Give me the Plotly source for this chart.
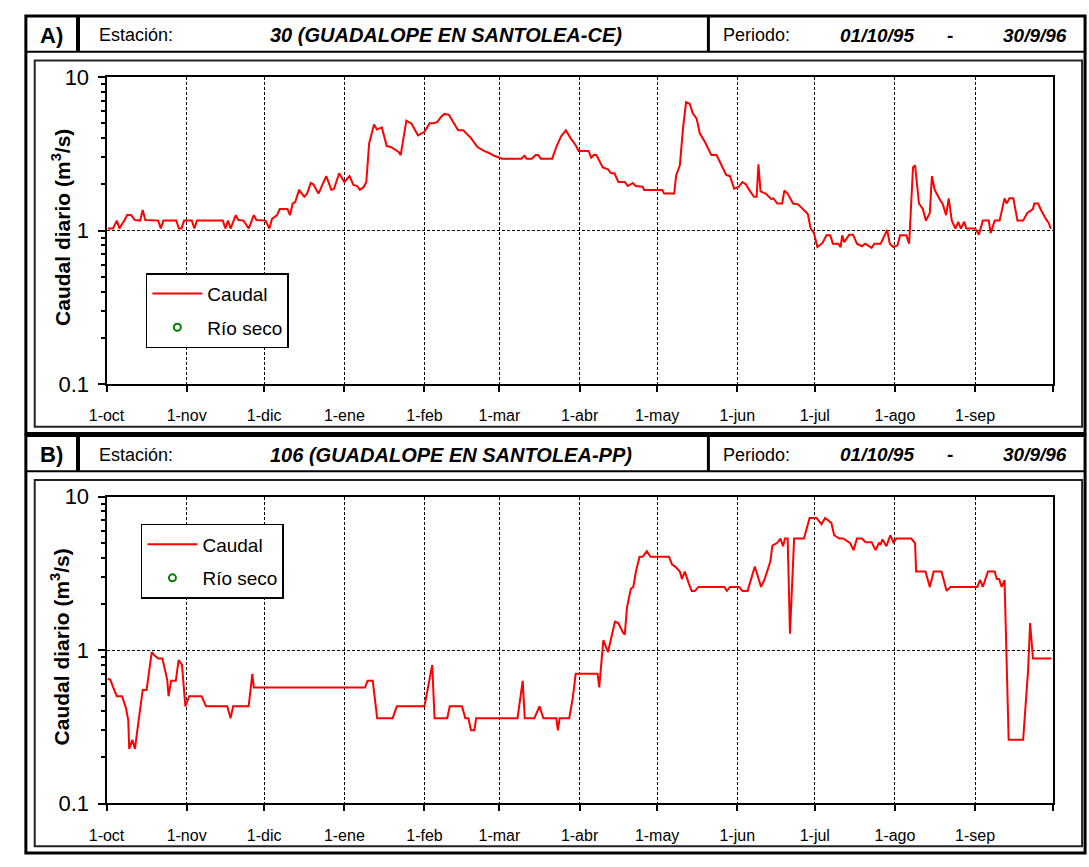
import pandas as pd
import plotly.graph_objects as go

INICIO = pd.Timestamp("1995-10-01")

# A) Estación 30 (Guadalope en Santolea-CE): días desde 1-oct-1995 y caudal (m3/s)
dias_a = [0.5, 2.5, 4, 5, 7, 8, 9.5, 11, 13, 14, 15, 20, 21, 22, 27, 28, 29, 30, 33, 34,
          35, 45, 46, 47, 48, 50, 51, 53, 55, 57, 58, 61.5, 63, 64, 66, 67, 70, 71, 72, 73,
          74.5, 76.5, 77.6, 79, 80, 82, 85, 87, 88, 90, 92, 94, 95.5, 97, 98, 99.5, 100.5, 101.6, 103.5, 104.6,
          106.5, 108.4, 110, 113, 113.8, 116, 118, 120.5, 123, 125, 126.5, 128, 129.4, 130.7, 132.5, 134, 136, 138, 141, 143.5,
          146, 148, 150, 153, 160.5, 161.7, 162.5, 164.5, 166, 167, 168, 172.4, 174, 175.8, 177.7, 179.5, 181.5, 182.6, 186.5, 187.5,
          188.5, 189.5, 192, 194, 195.2, 196.5, 198, 200.5, 201.7, 203.6, 204.7, 207.4, 208, 215, 215.7, 219.6, 220.4, 221.8, 223, 224.2,
          225.6, 226.8, 228.3, 229.5, 231.4, 234, 236, 239.7, 241.2, 242.8, 244.5, 246, 247.3, 249, 250.5, 251.5, 252.2, 253, 255, 257.2,
          258, 259.5, 261.4, 262.2, 263.5, 265.6, 267.5, 269.8, 271.3, 272.4, 273.6, 275, 277, 278.5, 280, 281, 283, 284, 284.6, 285.4,
          287.3, 288.8, 290.3, 292.2, 293.5, 296, 297, 299.5, 300.6, 302, 303, 304.4, 306, 307, 309.4, 310.5, 312, 312.8, 314.3, 315.8,
          317, 318.5, 319.3, 320.4, 322.3, 323.4, 324.8, 325.8, 327, 328.4, 329.5, 330.5, 331.8, 332.6, 336, 337.5, 339, 341.3, 342, 343.6,
          345.5, 347.4, 348.2, 349.3, 350.8, 352.4, 354.6, 356.2, 358.4, 358.9, 360.4, 361.5, 363.4, 364.5, 365.3]
caudal_a = [1.03, 1.03, 1.16, 1.03, 1.17, 1.26, 1.26, 1.17, 1.16, 1.36, 1.17, 1.16, 1.03, 1.16, 1.16, 1.03, 1.03, 1.16, 1.16, 1.03,
            1.16, 1.16, 1.03, 1.16, 1.03, 1.26, 1.17, 1.16, 1.03, 1.26, 1.17, 1.16, 1.03, 1.19, 1.26, 1.38, 1.38, 1.26, 1.5, 1.53,
            1.84, 1.66, 1.74, 2.04, 2.0, 1.74, 2.26, 1.84, 1.87, 2.36, 2.07, 2.26, 1.98, 1.95, 1.84, 1.92, 2.07, 3.7, 4.9, 4.55,
            4.7, 3.55, 3.5, 3.25, 3.1, 5.2, 4.97, 4.17, 4.4, 5.0, 5.0, 5.1, 5.5, 5.75, 5.67, 5.1, 4.5, 4.5, 4.0, 3.5,
            3.3, 3.2, 3.07, 2.94, 2.94, 3.07, 2.94, 2.94, 3.1, 3.1, 2.94, 2.94, 3.5, 4.1, 4.5, 4.0, 3.6, 3.3, 3.3, 2.98,
            3.1, 3.1, 2.58, 2.5, 2.36, 2.36, 2.07, 2.07, 1.95, 2.04, 1.95, 1.93, 1.84, 1.84, 1.74, 1.74, 2.3, 2.66, 4.6, 6.85,
            6.7, 5.8, 5.35, 4.3, 3.8, 3.1, 3.1, 2.3, 2.26, 1.87, 1.92, 2.07, 2.0, 1.8, 1.66, 1.66, 2.7, 1.8, 1.74, 1.6,
            1.62, 1.5, 1.5, 1.82, 1.74, 1.5, 1.48, 1.36, 1.28, 1.03, 0.97, 0.78, 0.83, 0.93, 0.93, 0.82, 0.82, 0.78, 0.93, 0.84,
            0.94, 0.94, 0.82, 0.79, 0.82, 0.77, 0.82, 0.82, 0.9, 1.01, 0.82, 0.78, 0.8, 0.93, 0.93, 0.82, 2.58, 2.66, 1.5, 1.38,
            1.16, 1.3, 2.26, 1.84, 1.6, 1.5, 1.26, 1.62, 1.16, 1.03, 1.14, 1.03, 1.14, 1.03, 1.03, 0.94, 1.16, 1.16, 0.96, 1.16,
            1.16, 1.62, 1.5, 1.62, 1.62, 1.16, 1.16, 1.3, 1.38, 1.5, 1.5, 1.36, 1.19, 1.12, 1.03]

# B) Estación 106 (Guadalope en Santolea-PP)
dias_b = [0.5, 1.5, 2.6, 4, 6, 7.5, 8.4, 8.8, 10, 11, 12.3, 14, 15.5, 17.5, 18.3, 20, 21.6, 23.5, 24, 25,
          26.8, 27.9, 29.2, 30.5, 32, 36.8, 38.5, 46.7, 48, 49, 55, 56.4, 57, 100, 101, 103, 104.7, 110.7, 112.3, 123,
          126, 126.9, 131.8, 132.8, 137.5, 138.8, 140, 141, 142.3, 143, 159, 161, 161.8, 165.5, 167.5, 169, 174, 174.6, 175.3, 179,
          180.4, 181.5, 190, 190.6, 192.2, 194, 196.7, 198, 199.8, 200.5, 201.3, 202.8, 203.8, 204.8, 206.2, 207.4, 209, 210.5, 217.6, 218.8,
          220, 221.8, 222.6, 223.7, 225.3, 226.4, 227.6, 229, 239, 240, 241.2, 244.7, 246, 248, 250.8, 253.2, 254.6, 256.8, 257.6, 259.5,
          260.7, 261.7, 262.5, 263.5, 264.4, 266, 269.8, 272, 274.7, 276.6, 278, 280.4, 281.5, 283.5, 285, 287.7, 289, 290.3, 292.2, 293.7,
          296, 297.5, 298.8, 299.5, 300.2, 301.7, 303.2, 304.4, 305.6, 311.3, 312.8, 313.2, 316.8, 318.5, 320, 323, 325, 326.5, 336.8, 338,
          339, 341, 343.6, 344.4, 345.3, 346.3, 347.4, 349, 354.6, 355.8, 356.5, 357.3, 358.4, 365.5]
caudal_b = [0.65, 0.64, 0.57, 0.5, 0.5, 0.42, 0.35, 0.227, 0.26, 0.227, 0.335, 0.55, 0.55, 0.97, 0.93, 0.88, 0.88, 0.64, 0.5, 0.63,
            0.63, 0.86, 0.8, 0.43, 0.5, 0.5, 0.43, 0.43, 0.36, 0.43, 0.43, 0.7, 0.57, 0.57, 0.63, 0.63, 0.36, 0.36, 0.43, 0.43,
            0.8, 0.36, 0.36, 0.43, 0.43, 0.36, 0.36, 0.3, 0.3, 0.36, 0.36, 0.63, 0.36, 0.36, 0.43, 0.36, 0.36, 0.3, 0.36, 0.36,
            0.49, 0.7, 0.7, 0.57, 1.16, 0.97, 1.53, 1.5, 1.3, 1.26, 1.87, 2.5, 2.58, 3.25, 4.05, 4.05, 4.4, 4.05, 4.05, 3.6,
            3.5, 3.25, 2.9, 3.25, 2.7, 2.43, 2.43, 2.58, 2.58, 2.43, 2.58, 2.58, 2.43, 2.43, 3.5, 2.58, 2.9, 3.77, 4.8, 5.0,
            5.33, 4.75, 5.33, 5.33, 1.28, 5.33, 5.33, 7.25, 7.25, 6.6, 7.25, 6.74, 5.6, 5.33, 5.33, 4.97, 4.48, 5.33, 5.33, 5.04,
            5.04, 4.48, 4.97, 4.9, 5.26, 4.75, 5.6, 5.04, 5.33, 5.33, 4.97, 3.25, 3.25, 2.58, 3.25, 3.25, 2.43, 2.58, 2.58, 2.86,
            2.58, 3.25, 3.25, 2.9, 2.9, 2.58, 2.86, 0.26, 0.26, 0.5, 0.73, 1.5, 0.88, 0.88]

# Río seco: ningún día sin caudal en el periodo
rio_seco_a = []
rio_seco_b = []

meses = ["1-oct", "1-nov", "1-dic", "1-ene", "1-feb", "1-mar", "1-abr",
         "1-may", "1-jun", "1-jul", "1-ago", "1-sep"]
ticks_mes = pd.date_range("1995-10-01", "1996-09-01", freq="MS")

W, H = 1089, 867
FONT = "Liberation Sans, Arial, sans-serif"


def px(x):
    return x / W


def py(y):
    return 1 - y / H


def fechas(dias):
    return INICIO + pd.to_timedelta(dias, unit="D")


def caja(x0, x1, y0, y1, color="black", width=2, tipo="rect"):
    return dict(type=tipo, xref="paper", yref="paper", x0=px(x0), x1=px(x1),
                y0=py(y0), y1=py(y1), line=dict(color=color, width=width))


fig = go.Figure()
paneles = [
    ("A)", "30 (GUADALOPE EN SANTOLEA-CE)", dias_a, caudal_a, rio_seco_a, 0, "x", "y", "legend"),
    ("B)", "106 (GUADALOPE EN SANTOLEA-PP)", dias_b, caudal_b, rio_seco_b, 432, "x2", "y2", "legend2"),
]

shapes, annotations = [], []
for letra, estacion, dias, caudal, seco, o, xa, ya, leg in paneles:
    fig.add_trace(go.Scatter(x=fechas(dias), y=caudal, mode="lines", name="Caudal",
                             line=dict(color="#ff0000", width=2), xaxis=xa, yaxis=ya,
                             legend=leg, legendgroup=leg + "c"))
    fig.add_trace(go.Scatter(x=fechas(seco) if seco else [None], y=seco or [None], mode="markers",
                             name="Río seco", xaxis=xa, yaxis=ya, legend=leg, legendgroup=leg + "s",
                             marker=dict(symbol="circle-open", color="#008000", size=7,
                                         line=dict(width=2, color="#008000"))))

    # marcos
    shapes += [
        caja(8, 1085, o + 4, o + 434, width=3),
        caja(8, 1085, o + 41, o + 41, width=2, tipo="line"),
        caja(61, 61, o + 4, o + 41, width=4, tipo="line"),
        caja(702, 702, o + 4, o + 41, width=3, tipo="line"),
        caja(17, 1082, o + 50, o + 427, color="#222", width=2),
    ]
    cab = [
        (34, letra, "center", 22, True, False),
        (80, "Estación:", "left", 18, False, False),
        (254, estacion, "left", 20, True, True),
        (715, "Periodo:", "left", 18, False, False),
        (834, "01/10/95", "left", 19, True, True),
        (948, "-", "center", 19, True, False),
        (1000, "30/9/96", "left", 19, True, True),
    ]
    for x, txt, anc, size, bold, ital in cab:
        if ital:
            txt = "<i>" + txt + "</i>"
        if bold:
            txt = "<b>" + txt + "</b>"
        annotations.append(dict(x=px(x), y=py(o + 24), xref="paper", yref="paper", text=txt,
                                showarrow=False, xanchor=anc, yanchor="middle",
                                font=dict(family=FONT, size=size, color="black")))
    annotations.append(dict(x=px(43), y=py(o + 222), xref="paper", yref="paper",
                            text="<b>Caudal diario (m<sup>3</sup>/s)</b>", textangle=-90,
                            showarrow=False, xanchor="center", yanchor="middle",
                            font=dict(family=FONT, size=21, color="black")))

eje_x = dict(type="date", range=["1995-10-01", "1996-10-01"], tickvals=ticks_mes, ticktext=meses,
             ticks="outside", ticklen=6, tickwidth=1.5, tickcolor="black",
             showgrid=True, gridcolor="black", gridwidth=1, griddash="3px,2px",
             showline=True, linecolor="black", linewidth=2, mirror=True,
             tickfont=dict(family=FONT, size=16, color="black"), ticklabelstandoff=10,
             minor=dict(tickmode="array", tickvals=["1996-10-01"], ticks="outside", ticklen=6,
                        tickcolor="black", showgrid=False),
             domain=[px(90), px(1052)])
eje_y = dict(type="log", range=[-1, 1], tickmode="array", tickvals=[0.1, 1, 10],
             ticktext=["0.1", "1", "10"], ticks="outside", ticklen=7, tickwidth=1.5, tickcolor="black",
             showgrid=True, gridcolor="black", gridwidth=1, griddash="3px,2px",
             showline=True, linecolor="black", linewidth=2, mirror=True,
             tickfont=dict(family=FONT, size=22, color="black"), ticklabelstandoff=4,
             minor=dict(tickmode="array", tickvals=[0.2, 0.3, 0.4, 0.5, 0.6, 0.7, 0.8, 0.9,
                                                    2, 3, 4, 5, 6, 7, 8, 9],
                        ticks="outside", ticklen=4, tickcolor="black", showgrid=False))

leyenda = dict(xanchor="left", yanchor="top", bgcolor="white", bordercolor="black", borderwidth=1.5,
               font=dict(family=FONT, size=19, color="black"), itemwidth=50,
               traceorder="grouped", tracegroupgap=6)

fig.update_layout(
    width=W, height=H, margin=dict(l=0, r=0, t=0, b=0),
    paper_bgcolor="white", plot_bgcolor="white", font=dict(family=FONT),
    xaxis=dict(eje_x, anchor="y"),
    yaxis=dict(eje_y, anchor="x", domain=[py(383), py(67)]),
    xaxis2=dict(eje_x, anchor="y2"),
    yaxis2=dict(eje_y, anchor="x2", domain=[py(815), py(499)]),
    legend=dict(leyenda, x=px(130), y=py(269)),
    legend2=dict(leyenda, x=px(125), y=py(527)),
    shapes=shapes, annotations=annotations,
)

# sin margen del <body>, para que la figura ocupe la ventana desde (0, 0)
fig.write_html("out.html", config={"displayModeBar": False},
               post_script="document.body.style.margin = '0';")
